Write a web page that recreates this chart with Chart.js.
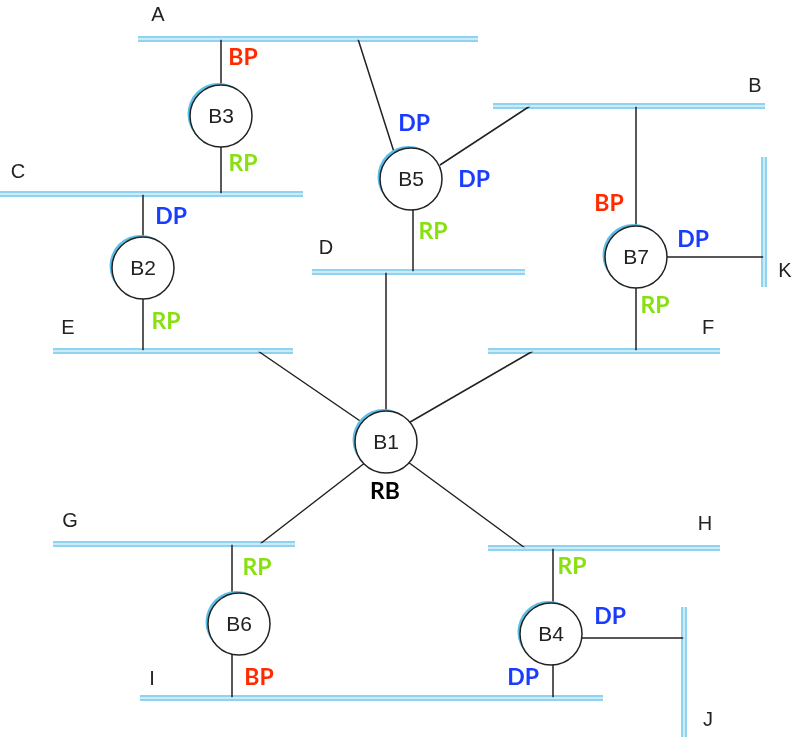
<!DOCTYPE html>
<html><head><meta charset="utf-8">
<script src="https://cdn.jsdelivr.net/npm/chart.js@4"></script>
<style>html,body{margin:0;padding:0;background:#fff}#w{width:795px;height:739px}</style>
</head><body><div id="w"><canvas id="c"></canvas></div>
<script>
// LAN segments: [name, x1, y1, x2, y2, labelX, labelY]
const lans = [
 ["A",138,39,478,39,158,15],["B",493,106,765,106,755,86],["C",0,194,303,194,18,172],
 ["D",312,272,525,272,326,248],["E",53,351,293,351,68,328],["F",488,351,720,351,708,328],
 ["G",53,544,295,544,70,521],["H",488,548,720,548,705,524],["I",140,698,603,698,152,679],
 ["J",684,607,684,737,708,720],["K",764,157,764,287,785,271]
];
// Bridges: [name, x, y]
const bridges = [["B3",221,116],["B5",411,179],["B2",143,268],["B7",636,257],["B1",386,442],["B6",239,624],["B4",551,634]];
// Links: [x1,y1,x2,y2]
const links = [
 [221,39,221,194],[358,39,394,152],[530,106,440,165],[413,200,413,272],
 [143,194,143,351],[636,106,636,351],[660,257,764,257],
 [386,272,386,420],[258,351,366,425],[533,351,405,425],[260,544,366,462],[525,548,408,462],
 [232,544,232,698],[553,548,553,698],[575,638,684,638]
];
// Port labels: [text, x, y, type]
const ports = [
 ["BP",243,58,"BP"],["RP",243,164,"RP"],["DP",171,217,"DP"],["RP",166,322,"RP"],
 ["DP",414,124,"DP"],["DP",474,180,"DP"],["RP",433,232,"RP"],
 ["BP",609,204,"BP"],["DP",693,240,"DP"],["RP",655,306,"RP"],["RB",385,492,"RB"],
 ["RP",257,568,"RP"],["BP",259,678,"BP"],["RP",572,567,"RP"],["DP",610,617,"DP"],["DP",523,678,"DP"]
];
const colors = {BP:"#ff2a00",RP:"#88e010",DP:"#1a3cff",RB:"#000"};

function segs(list){const d=[];list.forEach(s=>{d.push({x:s[1],y:s[2]},{x:s[3],y:s[4]},{x:NaN,y:NaN});});return d;}
const lanData = segs(lans.map(l=>[0,l[1],l[2],l[3],l[4]]));
const linkData = segs(links.map(l=>[0,...l]));

const deco = {
 id:'deco',
 afterDatasetsDraw(ch){
  const c=ch.ctx,X=ch.scales.x,Y=ch.scales.y;
  // lan center highlight
  c.save();c.strokeStyle="#dff3fc";c.lineWidth=1.5;
  lans.forEach(l=>{c.beginPath();c.moveTo(X.getPixelForValue(l[1]),Y.getPixelForValue(l[2]));c.lineTo(X.getPixelForValue(l[3]),Y.getPixelForValue(l[4]));c.stroke();});
  // bridges
  bridges.forEach(b=>{
   const x=X.getPixelForValue(b[1]),y=Y.getPixelForValue(b[2]);
   c.fillStyle="#5bbfe8";c.beginPath();c.arc(x-2.5,y-2,31,0,Math.PI*2);c.fill();
   c.fillStyle="#fff";c.strokeStyle="#222";c.lineWidth=1.5;
   c.beginPath();c.arc(x,y,31,0,Math.PI*2);c.fill();c.stroke();
   c.fillStyle="#222";c.font="21px 'Liberation Sans', Arial";c.textAlign="center";c.textBaseline="middle";
   c.fillText(b[0],x,y+1);
  });
  // lan names
  c.font="20px 'Liberation Sans', Arial";c.fillStyle="#222";
  lans.forEach(l=>c.fillText(l[0],X.getPixelForValue(l[5]),Y.getPixelForValue(l[6])));
  c.font="bold 23px Lato, 'Open Sans', sans-serif";
  ports.forEach(p=>{c.fillStyle=colors[p[3]];c.fillText(p[0],X.getPixelForValue(p[1]),Y.getPixelForValue(p[2]));});
  c.restore();
 }
};

new Chart(document.getElementById('c'),{
 type:'scatter',
 data:{datasets:[
  {data:linkData,showLine:true,spanGaps:false,borderColor:"#222",borderWidth:1.5,pointRadius:0},
  {data:lanData,showLine:true,spanGaps:false,borderColor:"#8fd3f0",borderWidth:6,borderCapStyle:'butt',pointRadius:0}
 ]},
 options:{responsive:true,maintainAspectRatio:false,animation:false,
  layout:{padding:0},
  plugins:{legend:{display:false},tooltip:{enabled:false}},
  scales:{x:{type:'linear',min:0,max:795,display:false},y:{type:'linear',min:0,max:739,reverse:true,display:false}}},
 plugins:[deco]
});
</script></body></html>
